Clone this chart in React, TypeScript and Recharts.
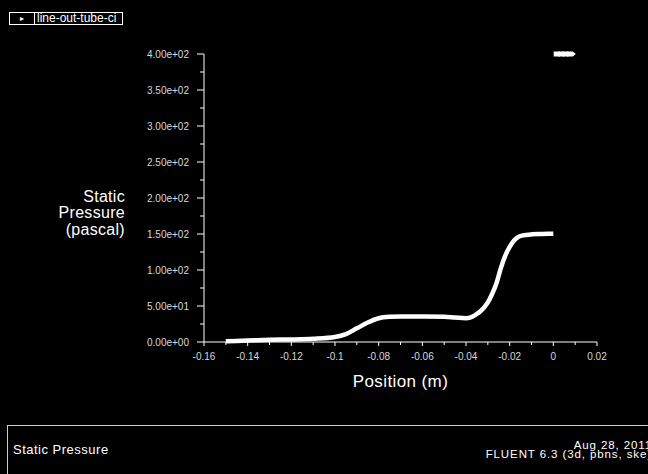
import React from "react";
import {
  ComposedChart,
  Line,
  Scatter,
  XAxis,
  YAxis,
  Label,
} from "recharts";

// position along the tube (m) and static pressure (Pa)
const positions = [
  -0.15, -0.14, -0.13, -0.12, -0.11, -0.1, -0.095, -0.09, -0.085, -0.08,
  -0.075, -0.07, -0.06, -0.05, -0.045, -0.04, -0.036, -0.032, -0.03, -0.028,
  -0.026, -0.024, -0.022, -0.02, -0.018, -0.016, -0.014, -0.01, -0.005, 0,
];
const pressures = [
  1, 2, 3, 3.5, 4.5, 7, 11, 19, 27, 33,
  35, 35.5, 35.5, 35, 34, 33, 37, 47, 55, 67,
  82, 103, 120, 132, 141, 146, 148, 149.5, 150, 150.5,
];

// stray points drawn at the top right
const strayPositions = [0.002, 0.004, 0.006, 0.008];
const strayPressures = [400, 400, 400, 400];

const yTicks = [
  0, 25, 50, 75, 100, 125, 150, 175, 200, 225, 250, 275, 300, 325, 350, 375, 400,
];
const xTicks = [
  -0.16, -0.15, -0.14, -0.13, -0.12, -0.11, -0.1, -0.09, -0.08, -0.07, -0.06,
  -0.05, -0.04, -0.03, -0.02, -0.01, 0, 0.01, 0.02,
];

const curve = positions.map((x, i) => ({ x, p: pressures[i] }));
const stray = strayPositions.map((x, i) => ({ x, p: strayPressures[i] }));

const FONT = "'Liberation Sans', Arial, Helvetica, sans-serif";

function sci(v: number): string {
  const [m, e] = v.toExponential(2).split("e");
  const sign = e.startsWith("-") ? "-" : "+";
  const digits = e.replace(/[+-]/, "").padStart(2, "0");
  return `${m}e${sign}${digits}`;
}

const YTick = (props: any) => {
  const { x, y, payload } = props;
  const major = payload.value % 50 === 0;
  return (
    <g>
      <line x1={x - (major ? 7 : 4)} x2={x} y1={y} y2={y} stroke="#fff" />
      {major && (
        <text
          x={x - 15}
          y={y + 3.5}
          textAnchor="end"
          fontSize={10}
          fontFamily={FONT}
          fill="#d8d8d8"
        >
          {sci(payload.value)}
        </text>
      )}
    </g>
  );
};

const XTick = (props: any) => {
  const { x, y, payload } = props;
  const hundredths = Math.round(payload.value * 100);
  const major = hundredths % 2 === 0;
  return (
    <g>
      <line x1={x} x2={x} y1={y} y2={y + (major ? 4 : 3)} stroke="#fff" />
      {major && (
        <text
          x={x}
          y={y + 18}
          textAnchor="middle"
          fontSize={10}
          fontFamily={FONT}
          fill="#d8d8d8"
        >
          {String(hundredths / 100)}
        </text>
      )}
    </g>
  );
};

const YTitle = (props: any) => {
  const vb = props.viewBox;
  const rx = vb.x - 19;
  const cy = vb.y + vb.height / 2;
  return (
    <text
      x={rx}
      y={cy}
      textAnchor="end"
      fontSize={16}
      letterSpacing={0.3}
      fontFamily={FONT}
      fill="#fff"
    >
      <tspan x={rx} y={cy + 3.5}>Static</tspan>
      <tspan x={rx} y={cy + 20}>Pressure</tspan>
      <tspan x={rx} y={cy + 36.5}>(pascal)</tspan>
    </text>
  );
};

const XTitle = (props: any) => {
  const vb = props.viewBox;
  return (
    <text
      x={vb.x + vb.width / 2}
      y={vb.y + 45}
      textAnchor="middle"
      fontSize={17}
      letterSpacing={0.4}
      fontFamily={FONT}
      fill="#fff"
    >
      Position (m)
    </text>
  );
};

const StrayMark = (props: any) => {
  const { cx, cy } = props;
  const pts = [
    [cx - 4, cy - 2.5],
    [cx + 2, cy - 2.5],
    [cx + 5, cy],
    [cx + 2, cy + 2.5],
    [cx - 4, cy + 2.5],
  ]
    .map((p) => p.join(","))
    .join(" ");
  return <polygon points={pts} fill="#fff" />;
};

export default function App() {
  return (
    <div
      style={{
        position: "fixed",
        left: 0,
        top: 0,
        width: 648,
        height: 474,
        background: "#000",
        overflow: "hidden",
        fontFamily: FONT,
        color: "#fff",
      }}
    >
      {/* legend box at the top left */}
      <div
        style={{
          position: "absolute",
          left: 9,
          top: 12,
          width: 112,
          height: 11,
          border: "1px solid #fff",
          overflow: "hidden",
          fontSize: 12,
          lineHeight: "11px",
          whiteSpace: "nowrap",
        }}
      >
        <span style={{ position: "absolute", left: 10, top: 0, fontSize: 8 }}>▸</span>
        <span
          style={{
            position: "absolute",
            left: 24,
            top: 0,
            paddingLeft: 2,
            borderLeft: "1px solid #fff",
          }}
        >
          line-out-tube-ci
        </span>
      </div>

      <div style={{ position: "absolute", left: 0, top: 0 }}>
        <ComposedChart
          width={648}
          height={474}
          margin={{ top: 54, right: 51, bottom: 102, left: 144 }}
        >
          <XAxis
            type="number"
            dataKey="x"
            domain={[-0.16, 0.02]}
            ticks={xTicks}
            interval={0}
            height={30}
            axisLine={{ stroke: "#fff" }}
            tickLine={false}
            tickSize={0}
            tickMargin={0}
            tick={<XTick />}
          >
            <Label content={<XTitle />} />
          </XAxis>
          <YAxis
            type="number"
            dataKey="p"
            domain={[0, 400]}
            ticks={yTicks}
            interval={0}
            width={60}
            axisLine={{ stroke: "#fff" }}
            tickLine={false}
            tickSize={0}
            tickMargin={0}
            tick={<YTick />}
          >
            <Label content={<YTitle />} />
          </YAxis>
          <Line
            data={curve}
            dataKey="p"
            type="monotone"
            stroke="#fff"
            strokeWidth={4.5}
            dot={false}
            isAnimationActive={false}
          />
          <Scatter
            data={stray}
            dataKey="p"
            fill="#fff"
            shape={<StrayMark />}
            isAnimationActive={false}
          />
        </ComposedChart>
      </div>

      {/* bottom info panel */}
      <div
        style={{
          position: "absolute",
          left: 7,
          top: 425,
          width: 650,
          height: 60,
          borderTop: "1px solid #ccc",
          borderLeft: "1px solid #ccc",
        }}
      />
      <div
        style={{
          position: "absolute",
          left: 13,
          top: 442,
          fontSize: 13,
          letterSpacing: 0.5,
          whiteSpace: "nowrap",
        }}
      >
        Static Pressure
      </div>
      <div
        style={{
          position: "absolute",
          right: -4,
          top: 441,
          fontSize: 11.5,
          lineHeight: "9px",
          letterSpacing: 0.9,
          textAlign: "right",
          whiteSpace: "nowrap",
        }}
      >
        <div>Aug 28, 2011</div>
        <div>FLUENT 6.3 (3d, pbns, ske)</div>
      </div>
    </div>
  );
}
